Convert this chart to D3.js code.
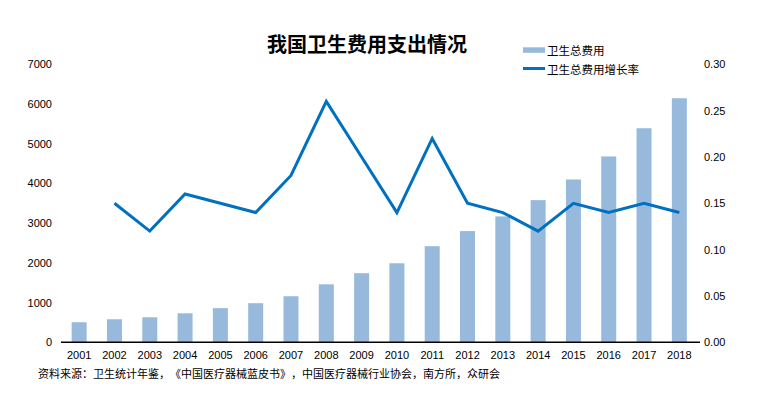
<!DOCTYPE html>
<html><head><meta charset="utf-8">
<script src="https://cdn.jsdelivr.net/npm/d3@7"></script>
<style>
html,body{margin:0;padding:0;background:#fff;}
svg{display:block;}
text{font-family:"Liberation Sans","Noto Sans CJK SC",Arial,sans-serif;fill:#000;text-spacing-trim:space-all;}
.cjk{font-family:"Noto Sans CJK SC","Liberation Sans",sans-serif;}
</style></head>
<body>
<svg id="chart" width="774" height="398"></svg>
<script>
const years = ["2001","2002","2003","2004","2005","2006","2007","2008","2009","2010","2011","2012","2013","2014","2015","2016","2017","2018"];
const totalCost = [505,580,630,730,860,985,1160,1460,1740,1990,2420,2800,3170,3580,4100,4680,5390,6145];
const growthRate = [null,0.15,0.12,0.16,0.15,0.14,0.18,0.26,0.20,0.14,0.22,0.15,0.14,0.12,0.15,0.14,0.15,0.14];
const leftTicks = [0,1000,2000,3000,4000,5000,6000,7000];
const rightTicks = [0,0.05,0.10,0.15,0.20,0.25,0.30];
const title = "我国卫生费用支出情况";
const seriesNames = ["卫生总费用","卫生总费用增长率"];
const sourceNote = "资料来源：卫生统计年鉴，《中国医疗器械蓝皮书》，中国医疗器械行业协会，南方所，众研会";

const svg = d3.select("#chart");
const barColor = "#97BADC", lineColor = "#0070C0";

const x = d3.scaleBand().domain(years).range([61.5, 697]).paddingInner(0.575).paddingOuter(0.2875);
const yL = d3.scaleLinear().domain([0,7000]).range([342.3, 64.3]);
const yR = d3.scaleLinear().domain([0,0.30]).range([342.3, 64.3]);

// bars
svg.append("g").selectAll("rect").data(years).join("rect")
  .attr("x", d => x(d))
  .attr("width", x.bandwidth())
  .attr("y", (d,i) => yL(totalCost[i]))
  .attr("height", (d,i) => yL(0) - yL(totalCost[i]))
  .attr("fill", barColor);

// line
const line = d3.line()
  .defined(d => d.v != null)
  .x(d => x(d.y) + x.bandwidth()/2)
  .y(d => yR(d.v));
svg.append("path")
  .datum(years.map((y,i) => ({y, v: growthRate[i]})))
  .attr("d", line)
  .attr("fill","none").attr("stroke", lineColor).attr("stroke-width", 3)
  .attr("stroke-linejoin","miter");

// x axis line
svg.append("line").attr("x1",61).attr("x2",700).attr("y1",yL(0)).attr("y2",yL(0))
  .attr("stroke","#000").attr("stroke-width",1.5);

// left axis
const leftAxis = d3.axisLeft(yL).tickValues(leftTicks).tickSize(0).tickPadding(0).tickFormat(d3.format("d"));
const gl = svg.append("g").attr("transform","translate(52,0)").call(leftAxis);
gl.select(".domain").remove();
gl.selectAll("text").attr("font-size",11).attr("font-family","Liberation Sans, Arial, sans-serif").attr("fill","#000");

// right axis
const rightAxis = d3.axisRight(yR).tickValues(rightTicks).tickSize(0).tickPadding(0).tickFormat(d3.format(".2f"));
const gr = svg.append("g").attr("transform","translate(704,0)").call(rightAxis);
gr.select(".domain").remove();
gr.selectAll("text").attr("font-size",11).attr("font-family","Liberation Sans, Arial, sans-serif").attr("fill","#000");

// bottom axis labels
const bottomAxis = d3.axisBottom(x).tickSize(0).tickPadding(0);
const gb = svg.append("g").attr("transform","translate(0,351)").call(bottomAxis);
gb.select(".domain").remove();
gb.selectAll("text").attr("font-size",11).attr("font-family","Liberation Sans, Arial, sans-serif").attr("fill","#000");

// title
svg.append("text").attr("class","cjk").attr("x",367).attr("y",43).attr("text-anchor","middle")
  .attr("dominant-baseline","central").attr("font-size",20).attr("font-weight","bold").text(title);

// legend
svg.append("rect").attr("x",523).attr("y",47.3).attr("width",22).attr("height",5.5).attr("fill",barColor);
svg.append("text").attr("class","cjk").attr("x",547).attr("y",50).attr("dominant-baseline","central")
  .attr("font-size",11.5).text(seriesNames[0]);
svg.append("line").attr("x1",523).attr("x2",545).attr("y1",68.5).attr("y2",68.5)
  .attr("stroke",lineColor).attr("stroke-width",3);
svg.append("text").attr("class","cjk").attr("x",547).attr("y",68.5).attr("dominant-baseline","central")
  .attr("font-size",11.5).text(seriesNames[1]);

// source
svg.append("text").attr("class","cjk").attr("x",38).attr("y",373).attr("dominant-baseline","central")
  .attr("font-size",11).text(sourceNote);
</script>
</body></html>
